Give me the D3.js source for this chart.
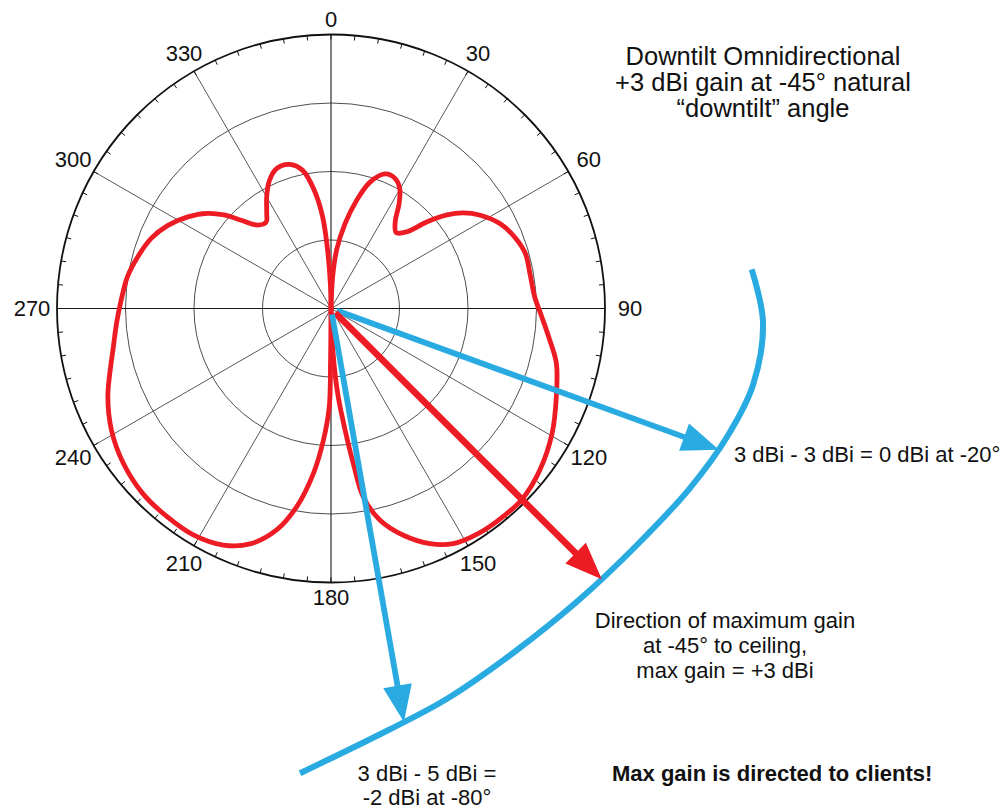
<!DOCTYPE html>
<html>
<head>
<meta charset="utf-8">
<script src="https://cdn.jsdelivr.net/npm/d3@7"></script>
<style>
  html, body { margin: 0; padding: 0; background: #ffffff; }
  svg { display: block; }
  text { font-family: "Liberation Sans", Arial, Helvetica, sans-serif; fill: #111; }
</style>
</head>
<body>
<svg id="chart" width="1008" height="809"></svg>
<script>
// Elevation pattern of a downtilt omni antenna.
// Angles in degrees, clockwise from straight up (0 = ceiling, 90 = horizon, 180 = floor).
// Gain in dBi.
const rightAngles = [0, 3, 5.5, 9.4, 13.3, 17.1, 21.9, 26.2, 29.9, 33, 36.5, 40.7, 44.7, 47.9, 51.1,
  54.1, 58, 63.3, 68.7, 74.2, 80, 86.7, 92.3, 98.2, 103.7, 111.4, 119.5, 127.7, 135, 140.4, 146.5,
  152.5, 157.2, 162.3, 167, 170.3, 171.8, 173.4, 175.3, 176.9, 178, 180];
const rightGain = [-24, -20.8, -18.1, -15.4, -12.9, -10.8, -9.5, -9.5, -10.2, -11.5, -13.2, -14.0, -13.2,
  -11.1, -9.1, -7.7, -6.4, -5.1, -4.3, -3.8, -3.8, -3.6, -2.9, -1.9, -0.8, 0.2, 1.4, 2.4, 3.0, 3.0, 2.9,
  2.5, 1.5, -0.2, -2.3, -4.9, -8.3, -11.8, -15.1, -18.5, -21.8, -24];

const leftAngles = [180, 180.5, 181, 183.3, 186.1, 189.8, 193.8, 199, 204.5, 211.3, 218.3, 225.4, 233.3,
  241, 248.4, 256.1, 259.2, 266, 272.3, 278.9, 285, 291.3, 297, 302.6, 307.6, 311.2, 314.5, 318.7,
  323.1, 326, 330.1, 334.3, 338.6, 343.9, 348.4, 352, 354.8, 356.7, 358.5, 360];
const leftGain = [-24, -18.5, -14.2, -10.8, -7.4, -3.9, -1.2, 0.9, 2.0, 2.5, 2.5, 2.4, 1.9, 1.1, 0.0,
  -1.35, -1.8, -2.5, -3.0, -3.4, -4.0, -4.7, -5.7, -7.0, -8.4, -9.8, -11.4, -12.9, -13.2, -12.5, -11.1,
  -9.8, -9.0, -9.0, -9.9, -12.1, -14.8, -18.2, -21.5, -24];

// Polar grid
const angleLabels = [0, 30, 60, 90, 120, 150, 180, 210, 240, 270, 300, 330];
const ringLevels = [-17.15, -10.3, -3.45, 3.4];
const gainDomain = [-24, 3.4];

// Client plane; reach is in multiples of the plot radius
const clientArcAngles = [84.68, 91.79, 100.27, 107.98, 116.57, 127.70, 139.40, 152.15, 163.37, 172.09, 183.82];
const clientArcReach = [1.542, 1.5774, 1.5653, 1.5194, 1.4649, 1.4114, 1.3964, 1.4220, 1.4855, 1.5512, 1.700];

// Rays from the antenna to the client plane (elevation below horizon -> polar angle 90 + e)
const rayElevations = [-20, -45, -80];
const rayKinds = ["path", "max", "path"];

// Annotation text
const titleLines = ["Downtilt Omnidirectional", "+3 dBi gain at -45\u00b0 natural", "\u201cdowntilt\u201d angle"];
const sideNote = "3 dBi - 3 dBi = 0 dBi at -20\u00b0";
const maxNote = ["Direction of maximum gain", "at -45\u00b0 to ceiling,", "max gain = +3 dBi"];
const floorNote = ["3 dBi - 5 dBi =", "-2 dBi at -80\u00b0"];
const footNote = "Max gain is directed to clients!";

const RED = "#ed1c24", BLUE = "#29abe2";

const svg = d3.select("#chart");
const cx = 331, cy = 308.5, R = 274;
const rad = d => d * Math.PI / 180;

const r = d3.scaleLinear().domain(gainDomain).range([0, R]);
const reach = d3.scaleLinear().domain([0, 1]).range([0, R]);

const g = svg.append("g").attr("transform", `translate(${cx},${cy})`);
const polar = (aDeg, dist) => [dist * Math.sin(rad(aDeg)), -dist * Math.cos(rad(aDeg))];

// rings
g.selectAll("circle.ring")
  .data(ringLevels.slice(0, -1))
  .join("circle")
  .attr("class", "ring")
  .attr("r", d => r(d))
  .attr("fill", "none")
  .attr("stroke", "#3a3a3a")
  .attr("stroke-width", 0.9);

// spokes
g.selectAll("line.spoke")
  .data(angleLabels)
  .join("line")
  .attr("class", "spoke")
  .attr("x1", 0).attr("y1", 0)
  .attr("x2", d => polar(d, R)[0])
  .attr("y2", d => polar(d, R)[1])
  .attr("stroke", d => d % 90 === 0 ? "#1a1a1a" : "#3a3a3a")
  .attr("stroke-width", d => d % 90 === 0 ? 1.1 : 0.85);

// outer circle
g.append("circle")
  .attr("r", r(ringLevels[ringLevels.length - 1]))
  .attr("fill", "none")
  .attr("stroke", "#111")
  .attr("stroke-width", 1.8);

// minor ticks every 5 degrees
g.selectAll("line.tick")
  .data(d3.range(0, 360, 5))
  .join("line")
  .attr("class", "tick")
  .attr("x1", d => polar(d, R - 5)[0])
  .attr("y1", d => polar(d, R - 5)[1])
  .attr("x2", d => polar(d, R)[0])
  .attr("y2", d => polar(d, R)[1])
  .attr("stroke", "#111")
  .attr("stroke-width", 1);

// angle labels
const labelDist = d => R + 15 + 10 * Math.abs(Math.sin(rad(d)));
g.selectAll("text.alabel")
  .data(angleLabels)
  .join("text")
  .attr("class", "alabel")
  .attr("x", d => polar(d, labelDist(d))[0])
  .attr("y", d => polar(d, labelDist(d))[1])
  .attr("text-anchor", "middle")
  .attr("dominant-baseline", "central")
  .attr("font-size", 22)
  .text(d => d);

// pattern
const pattern = d3.lineRadial()
  .angle(d => rad(d[0]))
  .radius(d => Math.max(0, r(d[1])))
  .curve(d3.curveCatmullRom.alpha(0.5));

const rightLobe = rightAngles.map((a, i) => [a, rightGain[i]]);
const leftLobe = leftAngles.map((a, i) => [a, leftGain[i]]);

g.selectAll("path.lobe")
  .data([rightLobe, leftLobe])
  .join("path")
  .attr("class", "lobe")
  .attr("d", pattern)
  .attr("fill", "none")
  .attr("stroke", RED)
  .attr("stroke-width", 4.8)
  .attr("stroke-linejoin", "round")
  .attr("stroke-linecap", "round");

// client plane arc
const arcLine = d3.lineRadial()
  .angle(d => rad(d[0]))
  .radius(d => reach(d[1]))
  .curve(d3.curveCatmullRom.alpha(0.5));

const arcPath = g.append("path")
  .datum(clientArcAngles.map((a, i) => [a, clientArcReach[i]]))
  .attr("d", arcLine)
  .attr("fill", "none")
  .attr("stroke", BLUE)
  .attr("stroke-width", 6);

// distance from the antenna to the arc along a given direction
const arcNode = arcPath.node();
const arcLen = arcNode.getTotalLength();
const arcSamples = d3.range(0, arcLen, 0.5).map(l => {
  const p = arcNode.getPointAtLength(l);
  let a = Math.atan2(p.x, -p.y) * 180 / Math.PI;
  if (a < 0) a += 360;
  return { a, d: Math.hypot(p.x, p.y) };
});
const distToArc = ang => d3.least(arcSamples, s => Math.abs(s.a - ang)).d;

// rays with arrowheads
const headLen = 37, headHalf = 14.5;
rayElevations.forEach((e, i) => {
  const a = 90 - e;
  const color = rayKinds[i] === "max" ? RED : BLUE;
  const tipDist = distToArc(a);
  const start = polar(a, 6);
  const neck = polar(a, tipDist - headLen + 4);
  g.append("line")
    .attr("x1", start[0]).attr("y1", start[1])
    .attr("x2", neck[0]).attr("y2", neck[1])
    .attr("stroke", color)
    .attr("stroke-width", rayKinds[i] === "max" ? 6.6 : 5.8);
  const tip = polar(a, tipDist);
  const base = polar(a, tipDist - headLen);
  const px = Math.cos(rad(a)) * headHalf, py = Math.sin(rad(a)) * headHalf;
  g.append("path")
    .attr("d", `M${tip[0]},${tip[1]}L${base[0] + px},${base[1] + py}L${base[0] - px},${base[1] - py}Z`)
    .attr("fill", color);
});

// text annotations
svg.append("g").selectAll("text")
  .data(titleLines)
  .join("text")
  .attr("x", 763)
  .attr("y", (d, i) => 65 + i * 26)
  .attr("text-anchor", "middle")
  .attr("font-size", 25.5)
  .text(d => d);

svg.append("text")
  .attr("x", 734).attr("y", 462)
  .attr("font-size", 22)
  .text(sideNote);

svg.append("g").selectAll("text")
  .data(maxNote)
  .join("text")
  .attr("x", 725)
  .attr("y", (d, i) => 628 + i * 25)
  .attr("text-anchor", "middle")
  .attr("font-size", 22)
  .text(d => d);

svg.append("g").selectAll("text")
  .data(floorNote)
  .join("text")
  .attr("x", 427)
  .attr("y", (d, i) => 781 + i * 24)
  .attr("text-anchor", "middle")
  .attr("font-size", 22)
  .text(d => d);

svg.append("text")
  .attr("x", 612).attr("y", 781)
  .attr("font-size", 22)
  .attr("font-weight", "bold")
  .text(footNote);
</script>
</body>
</html>
